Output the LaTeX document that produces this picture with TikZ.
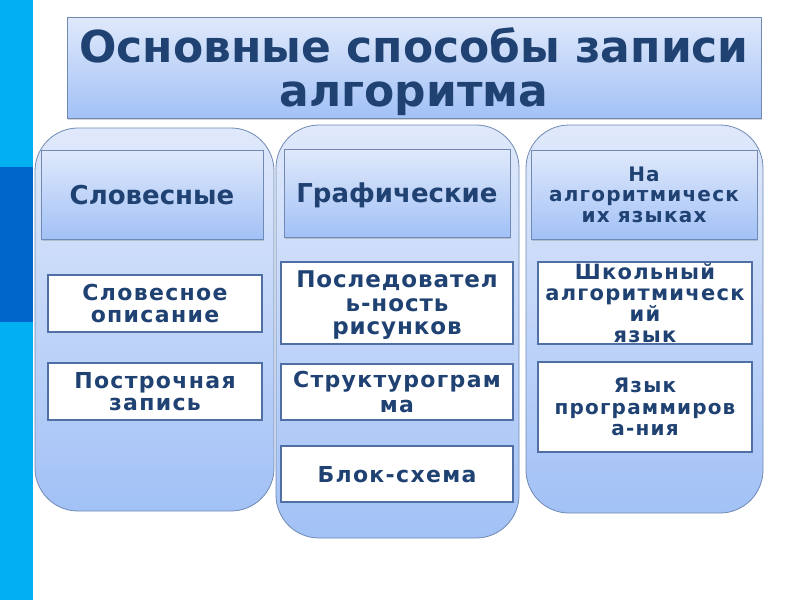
\documentclass[tikz,border=0pt]{standalone}
\usepackage{fontspec}
\setmainfont{DejaVu Sans}
\usepackage{tikz}
\usetikzlibrary{shadows}
\definecolor{navy}{RGB}{31,66,115}
\definecolor{paleblue}{RGB}{224,233,251}
\definecolor{midblue}{RGB}{162,193,246}
\definecolor{edgeblue}{RGB}{112,138,180}
\definecolor{boxedge}{RGB}{80,112,165}
\definecolor{stripcyan}{RGB}{0,176,240}
\definecolor{stripblue}{RGB}{0,102,204}
\newcommand{\colradius}{43pt}
\newcommand{\titlefont}{\fontsize{44}{44}\selectfont\bfseries}
\newcommand{\headfont}{\fontsize{26}{26}\selectfont\bfseries}
\newcommand{\smallheadfont}{\fontsize{20}{20.5}\selectfont\bfseries\addfontfeature{LetterSpace=6}}
\newcommand{\methodfont}{\fontsize{22}{22}\selectfont\bfseries\addfontfeature{LetterSpace=6}}
\tikzstyle{column}=[draw=edgeblue, line width=0.8pt, rounded corners=\colradius,
                    top color=paleblue, bottom color=midblue, inner sep=0, outer sep=0]
\tikzstyle{heading}=[draw=edgeblue, line width=0.8pt, top color=paleblue, bottom color=midblue,
                     drop shadow={opacity=0.35, shadow xshift=1pt, shadow yshift=-1.5pt},
                     text=navy, align=center, inner sep=0, outer sep=0, text depth=0pt, font=\headfont]
\tikzstyle{method}=[draw=boxedge, line width=1.6pt, fill=white, text=navy, align=center,
                    inner sep=0, outer sep=0, text depth=0pt, font=\methodfont]

\begin{document}
\begin{tikzpicture}[x=1pt, y=-1pt]
    \useasboundingbox[fill=white] (0,0) rectangle (800,600);
    % side strip
    \fill[stripcyan] (0,0) rectangle (33,600);
    \fill[stripblue] (0,167) rectangle (33,322);

    \node[heading, minimum width=694, minimum height=101, font=\titlefont] (title) at (414,67.5)
        {Основные способы записи\\алгоритма};

    % the three columns
    \node[column, minimum width=239, minimum height=383] (verbal) at (154.5,319.5) {};
    \node[column, minimum width=243, minimum height=413] (graphic) at (397.5,331.5) {};
    \node[column, minimum width=237, minimum height=388] (language) at (644.5,319) {};

    \node[heading, minimum width=222, minimum height=89] (verbalhead) at (152,194.5) {Словесные};
    \node[heading, minimum width=226, minimum height=88] (graphichead) at (397,193) {Графические};
    \node[heading, minimum width=226, minimum height=89, font=\smallheadfont] (languagehead) at (644,194.5)
        {На\\алгоритмическ\\их языках};

    \node[method, minimum width=214, minimum height=57] (description) at (155,303.5) {Словесное\\описание};
    \node[method, minimum width=214, minimum height=57] (linewise) at (155,391.5) {Построчная\\запись};

    \node[method, minimum width=232, minimum height=82, font={\fontsize{23}{23.5}\selectfont\bfseries\addfontfeature{LetterSpace=4}}] (pictures) at (397,303)
        {Последовател\\ь-ность\\рисунков};
    \node[method, minimum width=232, minimum height=56, font={\fontsize{22}{24.5}\selectfont\bfseries\addfontfeature{LetterSpace=6}}] (nassi) at (397,392)
        {Структурограм\\ма};
    \node[method, minimum width=232, minimum height=56] (flowchart) at (397,474) {Блок-схема};

    \node[method, minimum width=214, minimum height=82, font={\fontsize{21}{20.7}\selectfont\bfseries\addfontfeature{LetterSpace=6}}] (school) at (645,303)
        {Школьный\\алгоритмическ\\ий\\язык};
    \node[method, minimum width=214, minimum height=90, font={\fontsize{20}{21.5}\selectfont\bfseries\addfontfeature{LetterSpace=6}}] (programming) at (645,407)
        {Язык\\программиров\\а-ния};
\end{tikzpicture}
\end{document}
